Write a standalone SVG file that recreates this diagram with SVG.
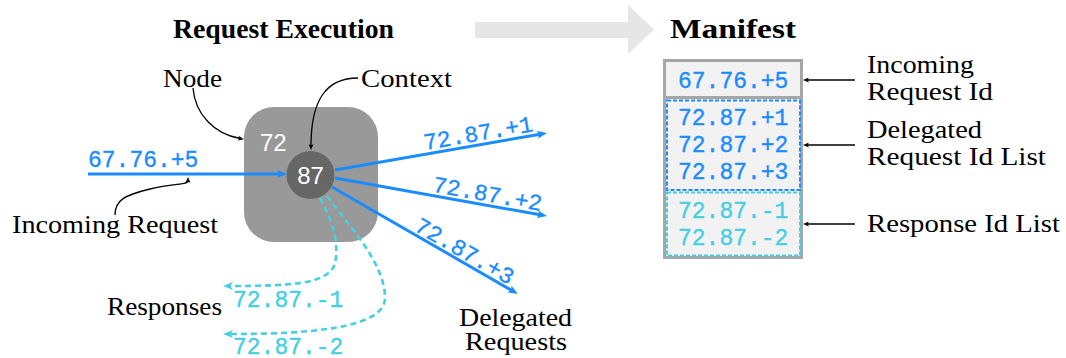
<svg xmlns="http://www.w3.org/2000/svg" width="1066" height="358" viewBox="0 0 1066 358">
  <style>
    .title { font-family: "Liberation Serif", "Times New Roman", serif; font-weight: bold; font-size: 27px; fill: #000; }
    .lbl { font-family: "Liberation Serif", "Times New Roman", serif; font-size: 25px; fill: #000; }
    .mono { font-family: "Liberation Mono", "Courier New", monospace; font-size: 23px; stroke-width: 0.35px; }
    .blue { fill: #1a8cff; stroke: #1a8cff; }
    .cyan { fill: #45cfe0; stroke: #45cfe0; }
    .num { font-family: "Liberation Sans", Arial, sans-serif; font-size: 24px; fill: #fff; }
    .req { fill: none; stroke: #1a8cff; stroke-width: 3; }
    .resp { fill: none; stroke: #45cfe0; stroke-width: 2.6; stroke-dasharray: 6 4; }
    .note { fill: none; stroke: #000; stroke-width: 1.3; }
  </style>
  <defs>
    <marker id="arrBlue" viewBox="0 0 10 8" refX="3" refY="4" markerWidth="10" markerHeight="8" markerUnits="userSpaceOnUse" orient="auto">
      <path d="M0,0 L10,4 L0,8 L2.5,4 z" fill="#1a8cff"/>
    </marker>
    <marker id="arrCyan" viewBox="0 0 10 8" refX="3" refY="4" markerWidth="10" markerHeight="8" markerUnits="userSpaceOnUse" orient="auto">
      <path d="M0,0 L10,4 L0,8 L2.5,4 z" fill="#45cfe0"/>
    </marker>
    <marker id="arrBlack" viewBox="0 0 6 5" refX="2" refY="2.5" markerWidth="6" markerHeight="5" markerUnits="userSpaceOnUse" orient="auto">
      <path d="M0,0 L6,2.5 L0,5 L1.5,2.5 z" fill="#000"/>
    </marker>
  </defs>

  <!-- headings and the transition arrow -->
  <text class="title" x="173" y="38" textLength="221" lengthAdjust="spacingAndGlyphs">Request Execution</text>
  <polygon id="transition" points="475,22 628,22 628,5 654,29.5 628,54 628,38 475,38" fill="#e6e6e6"/>
  <text class="title" x="670" y="38" textLength="126" lengthAdjust="spacingAndGlyphs">Manifest</text>

  <!-- node 72 with its context 87 -->
  <g id="node72">
    <rect x="244" y="107" width="134" height="135" rx="30" fill="#999999"/>
    <text class="num" x="260" y="151">72</text>
  </g>
  <g id="context87">
    <circle cx="310.5" cy="175" r="24" fill="#666666"/>
    <text class="num" x="310.5" y="183.5" text-anchor="middle">87</text>
  </g>

  <!-- connectors -->
  <g id="connectors">
    <!-- incoming request -->
    <path class="req" d="M88,174 L280,174" marker-end="url(#arrBlue)"/>
    <!-- delegated requests -->
    <path class="req" d="M335,170 L540.1,134.2" marker-end="url(#arrBlue)"/>
    <path class="req" d="M335,178 L540.1,214.8" marker-end="url(#arrBlue)"/>
    <path class="req" d="M332,187 L511.9,290.5" marker-end="url(#arrBlue)"/>
    <!-- responses -->
    <path class="resp" d="M320,198 C334,222 340,250 334,266 C326,284 290,286 230,286" marker-end="url(#arrCyan)"/>
    <path class="resp" d="M327,196 C347,224 385,262 385,298 C385,330 300,334 230,334" marker-end="url(#arrCyan)"/>
    <!-- callouts -->
    <path class="note" d="M193,88 C195,114 214,134 240,138.5" marker-end="url(#arrBlack)"/>
    <path class="note" d="M358,78 C326,78 311,100 311,146" marker-end="url(#arrBlack)"/>
    <path class="note" d="M115,215 C115,200 125,195 150,189 C175,183 188,185 188,181" marker-end="url(#arrBlack)"/>
    <!-- manifest callouts -->
    <path class="note" d="M855,80 L807,80" marker-end="url(#arrBlack)"/>
    <path class="note" d="M855,145 L807,145" marker-end="url(#arrBlack)"/>
    <path class="note" d="M855,224 L807,224" marker-end="url(#arrBlack)"/>
  </g>

  <!-- connector labels -->
  <text class="mono blue" x="88" y="167">67.76.+5</text>
  <text class="mono blue" transform="translate(425,150) rotate(-9.9)">72.87.+1</text>
  <text class="mono blue" transform="translate(432,191.5) rotate(10.2)">72.87.+2</text>
  <text class="mono blue" transform="translate(413,230) rotate(29.9)">72.87.+3</text>
  <text class="mono cyan" x="233" y="307">72.87.-1</text>
  <text class="mono cyan" x="233" y="354">72.87.-2</text>

  <!-- annotations -->
  <text class="lbl" x="163" y="87" textLength="59" lengthAdjust="spacingAndGlyphs">Node</text>
  <text class="lbl" x="361" y="87" textLength="91" lengthAdjust="spacingAndGlyphs">Context</text>
  <text class="lbl" x="12" y="233" textLength="206" lengthAdjust="spacingAndGlyphs">Incoming Request</text>
  <text class="lbl" x="107" y="315" textLength="115" lengthAdjust="spacingAndGlyphs">Responses</text>
  <text class="lbl" x="459" y="326" textLength="113" lengthAdjust="spacingAndGlyphs">Delegated</text>
  <text class="lbl" x="465" y="350" textLength="102" lengthAdjust="spacingAndGlyphs">Requests</text>

  <!-- manifest -->
  <g id="manifest">
    <rect x="664.5" y="60.5" width="137" height="197" fill="#f2f2f2" stroke="#a6a6a6" stroke-width="3"/>
    <line x1="664" y1="97.5" x2="802" y2="97.5" stroke="#a6a6a6" stroke-width="3"/>
    <rect x="667" y="100.5" width="133" height="89.5" fill="none" stroke="#1a8cff" stroke-width="2" stroke-dasharray="4 2"/>
    <rect x="667" y="192.5" width="133" height="63" fill="none" stroke="#45cfe0" stroke-width="2" stroke-dasharray="4 2"/>
    <text class="mono blue" x="678" y="88">67.76.+5</text>
    <text class="mono blue" x="678" y="125">72.87.+1</text>
    <text class="mono blue" x="678" y="152">72.87.+2</text>
    <text class="mono blue" x="678" y="179">72.87.+3</text>
    <text class="mono cyan" x="678" y="218">72.87.-1</text>
    <text class="mono cyan" x="678" y="245">72.87.-2</text>
  </g>

  <!-- manifest field labels -->
  <text class="lbl" x="867" y="73" textLength="107" lengthAdjust="spacingAndGlyphs">Incoming</text>
  <text class="lbl" x="867" y="100" textLength="126" lengthAdjust="spacingAndGlyphs">Request Id</text>
  <text class="lbl" x="867" y="138" textLength="115" lengthAdjust="spacingAndGlyphs">Delegated</text>
  <text class="lbl" x="867" y="165" textLength="179" lengthAdjust="spacingAndGlyphs">Request Id List</text>
  <text class="lbl" x="867" y="232" textLength="193" lengthAdjust="spacingAndGlyphs">Response Id List</text>
</svg>
